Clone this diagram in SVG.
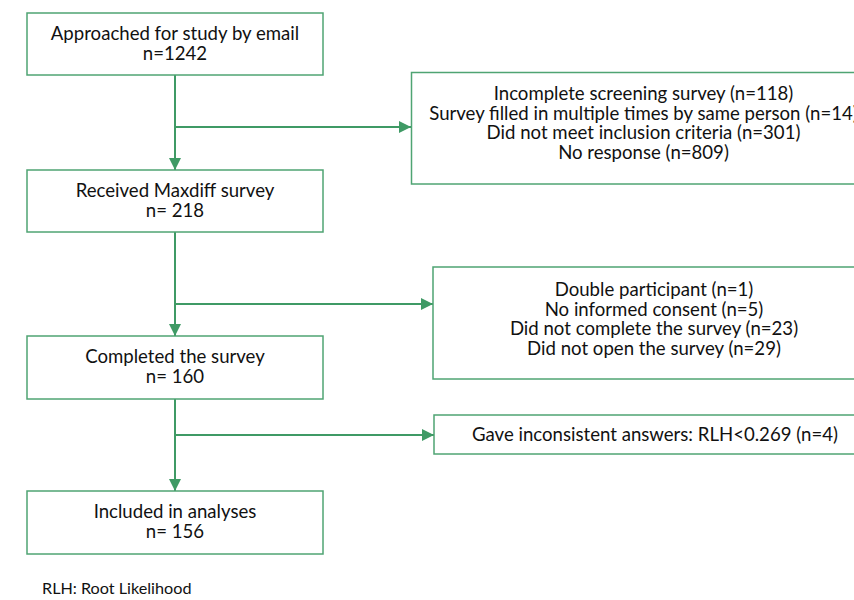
<svg xmlns="http://www.w3.org/2000/svg" width="854" height="600" viewBox="0 0 854 600">
<style>
.box{fill:#fff;stroke:#4fa473;stroke-width:1.5}
.t{font-family:Lato,"Liberation Sans",Arial,sans-serif;font-size:18.6px;fill:#111;text-anchor:middle}
.fn{font-family:Lato,"Liberation Sans",Arial,sans-serif;font-size:16.2px;fill:#111}
.c{fill:none;stroke:#3f9a65;stroke-width:2}
</style>
<defs>
<marker id="ah" viewBox="0 0 12 12" refX="12" refY="6" markerWidth="12" markerHeight="12" markerUnits="userSpaceOnUse" orient="auto">
<path d="M0,0 L12,6 L0,12 Z" fill="#3f9a65"/>
</marker>
</defs>
<rect width="854" height="600" fill="#fff"/>
<g id="connectors">
<line class="c" x1="175" y1="75" x2="175" y2="170" marker-end="url(#ah)"/>
<line class="c" x1="175" y1="127" x2="411" y2="127" marker-end="url(#ah)"/>
<line class="c" x1="175" y1="232" x2="175" y2="336" marker-end="url(#ah)"/>
<line class="c" x1="175" y1="304" x2="433" y2="304" marker-end="url(#ah)"/>
<line class="c" x1="175" y1="399" x2="175" y2="491" marker-end="url(#ah)"/>
<line class="c" x1="175" y1="435" x2="434" y2="435" marker-end="url(#ah)"/>
</g>
<g id="n1">
<rect class="box" x="27" y="13" width="296" height="62"/>
<text class="t" x="175" y="40">Approached for study by email</text>
<text class="t" x="175" y="60">n=1242</text>
</g>
<g id="n2">
<rect class="box" x="27" y="170" width="296" height="62"/>
<text class="t" x="175" y="197">Received Maxdiff survey</text>
<text class="t" x="175" y="217">n= 218</text>
</g>
<g id="n3">
<rect class="box" x="27" y="336" width="296" height="63"/>
<text class="t" x="175" y="363">Completed the survey</text>
<text class="t" x="175" y="383">n= 160</text>
</g>
<g id="n4">
<rect class="box" x="27" y="491" width="296" height="63"/>
<text class="t" x="175" y="518">Included in analyses</text>
<text class="t" x="175" y="538">n= 156</text>
</g>
<g id="e1">
<rect class="box" x="411.5" y="72.5" width="464" height="111.5"/>
<text class="t" x="643.5" y="100">Incomplete screening survey (n=118)</text>
<text class="t" x="643.5" y="119.5">Survey filled in multiple times by same person (n=14)</text>
<text class="t" x="643.5" y="139">Did not meet inclusion criteria (n=301)</text>
<text class="t" x="643.5" y="158.5">No response (n=809)</text>
</g>
<g id="e2">
<rect class="box" x="433" y="267" width="442" height="112"/>
<text class="t" x="654" y="296">Double participant (n=1)</text>
<text class="t" x="654" y="315.5">No informed consent (n=5)</text>
<text class="t" x="654" y="335">Did not complete the survey (n=23)</text>
<text class="t" x="654" y="354.5">Did not open the survey (n=29)</text>
</g>
<g id="e3">
<rect class="box" x="434" y="415" width="442" height="39"/>
<text class="t" x="655" y="440.5">Gave inconsistent answers: RLH&lt;0.269 (n=4)</text>
</g>
<text class="fn" x="42" y="594">RLH: Root Likelihood</text>
</svg>
